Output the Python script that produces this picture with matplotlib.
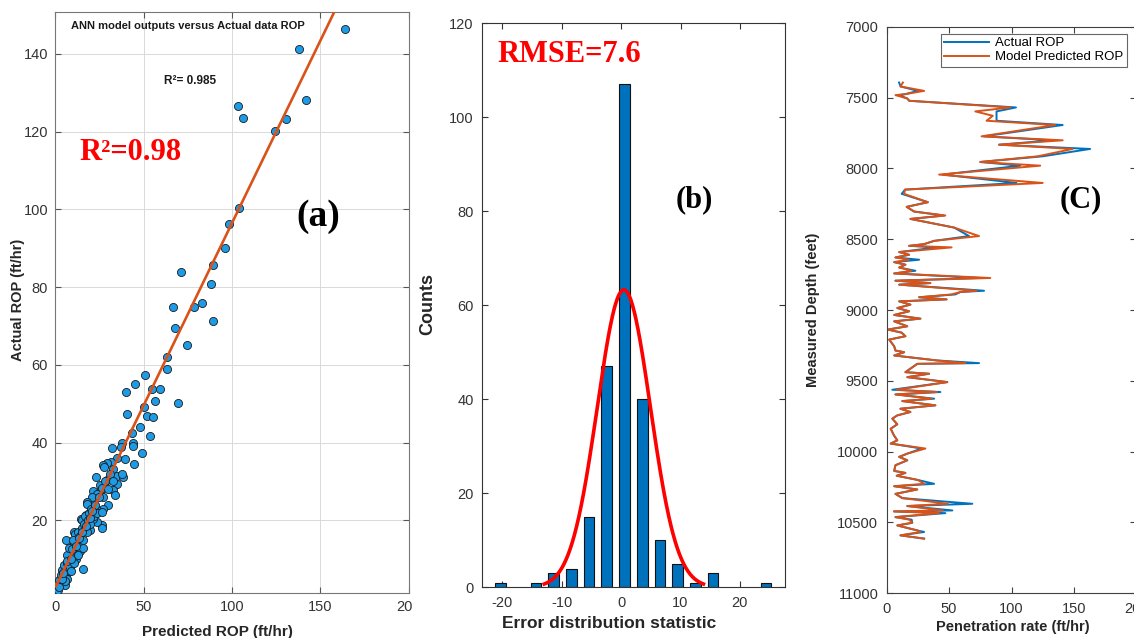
import numpy as np
import matplotlib
matplotlib.use("Agg")
import matplotlib.pyplot as plt
from matplotlib.transforms import Bbox

# ---------------- data ----------------
# (a) scatter: predicted vs actual ROP
pred_rop = [163.7, 138, 142, 103.6, 106.2, 124.3, 130.3, 104.1, 98.1, 96.2, 89.3, 88.1, 71.2, 83.1,
            78.7, 66.5, 89.5, 68, 74.4, 63.3, 63.1, 51.0, 45.4, 39.9, 55, 59.3, 69.7, 56.7, 50.3,
            52.2, 55.2, 40.7, 48, 53.9, 43.5, 37.9, 43.9, 44.1, 32.4, 37.1, 49.2, 44.5, 39.4, 35.1,
            31.8, 29.2, 27.3, 27.5, 32.9, 23, 29.2, 35.2, 38.6, 38, 35.2, 25.6, 26, 32.8, 33.9,
            21.7, 23.7, 21, 27.3, 29.9, 17.9, 27.3, 23.2, 26.3, 23.5, 21.4, 14.5, 17.5, 19.7, 15.9,
            6.2, 10.7,
            0.8, 1.5, 2.1, 3.0, 4.0, 5.8, 4.5, 5.0, 6.0, 7.0, 7.5, 8.0, 8.5, 9.0, 9.6, 10.0, 10.5,
            11.0, 11.5, 12.0, 12.5, 13.0, 13.5, 14.0, 15.2, 15.0, 16.0, 16.5, 17.0, 18.0, 18.1,
            18.5, 19.0, 20.0, 20.5, 22.0, 22.5, 24.0, 25.0, 26.6, 26.6, 26.6, 28.0, 30.0, 31.0,
            33.0, 12.0, 14.0, 6.5, 7.0, 3.5, 9.0, 11.0, 13.0, 16.0, 8.0, 10.0, 2.5, 5.5, 6.8,
            8.8, 9.8, 11.8, 13.8, 15.5, 17.5, 19.5, 21.0, 3.8, 4.8]
act_rop = [146.4, 141.4, 128.2, 126.5, 123.4, 120.1, 123.2, 100.4, 96.3, 90.1, 85.8, 80.9, 84.0, 76.0,
           74.8, 74.9, 71.3, 69.6, 65.2, 61.9, 59.0, 57.5, 55.1, 53.0, 53.9, 53.9, 50.3, 50.6, 49.2,
           46.8, 46.6, 47.3, 44.0, 41.8, 42.5, 40.0, 40.0, 39.1, 38.6, 38.8, 37.2, 34.6, 35.8, 36.0,
           35.1, 34.8, 34.2, 33.7, 33.2, 31.2, 30.5, 31.3, 31.1, 31.9, 29.3, 29.0, 27.9, 27.7, 26.4,
           27.5, 26.7, 26.0, 25.9, 24.0, 24.6, 23.0, 23.0, 18.7, 19.6, 20.3, 20.3, 21.4, 17.6, 7.6,
           15.0, 17.1,
           1.5, 2.0, 4.6, 3.5, 7.2, 3.3, 5.5, 8.5, 6.0, 9.0, 7.0, 10.5, 8.0, 12.0, 9.8, 11.0, 13.2,
           14.0, 16.6, 12.0, 15.0, 17.0, 14.0, 16.0, 20.1, 18.0, 15.0, 19.0, 21.0, 17.0, 24.3,
           20.0, 22.0, 19.0, 23.0, 21.0, 24.0, 22.0, 26.0, 28.2, 22.2, 17.9, 30.0, 28.0, 32.0,
           30.0, 10.0, 12.0, 11.0, 5.0, 6.0, 7.0, 9.0, 11.0, 13.0, 13.0, 15.0, 2.8, 4.5, 9.5,
           10.0, 12.5, 13.5, 15.5, 17.0, 18.5, 20.5, 22.5, 5.0, 6.5]
fit_slope = 0.94
fit_intercept = 2.5

# (b) error histogram
bin_centers = [-20.3, -14.34, -11.36, -8.38, -5.4, -2.42, 0.56, 3.54, 6.52, 9.5, 12.48, 15.46, 24.4]
bin_counts = [1, 1, 3, 4, 15, 47, 107, 40, 10, 5, 1, 3, 1]
bin_step = 2.98
err_mu = 0.45
err_sigma = 4.47

# (c) depth log
depth = [7394, 7422, 7453, 7476, 7483, 7507, 7523, 7570, 7598, 7629, 7664, 7694, 7774, 7802, 7833,
         7863, 7915, 7955, 7981, 8044, 8103, 8150, 8180, 8239, 8272, 8305, 8333, 8357, 8418, 8478,
         8512, 8535, 8547, 8558, 8591, 8610, 8629, 8645, 8662, 8680, 8700, 8723, 8742, 8774, 8793,
         8810, 8821, 8864, 8873, 8890, 8910, 8925, 8939, 8962, 8986, 9009, 9035, 9061, 9080, 9115,
         9138, 9160, 9185, 9209, 9256, 9286, 9298, 9321, 9356, 9375, 9380, 9439, 9450, 9474, 9509,
         9563, 9579, 9596, 9626, 9643, 9673, 9697, 9720, 9744, 9767, 9807, 9838, 9885, 9920, 9943,
         9978, 10014, 10037, 10061, 10096, 10136, 10150, 10170, 10200, 10227, 10244, 10267, 10298,
         10328, 10368, 10384, 10415, 10422, 10434, 10462, 10480, 10502, 10521, 10556, 10567, 10591,
         10614]
actual = [9.9, 11.2, 25, 15, 10, 16.5, 18, 103.6, 88, 88, 88, 141, 78, 133, 90,
          163, 125, 75, 107, 45, 104, 14.7, 12, 33, 16, 22, 46, 19, 54, 66,
          38, 30, 18, 40, 10, 18, 7, 26, 6, 15, 10, 23, 6, 75, 7,
          35, 10, 78, 59, 55, 26, 48, 10, 19, 8.5, 18, 6, 27, 6, 16.5,
          1, 12, 15, 2, 6, 7, 14, 6, 40, 74, 24.5, 15, 34, 16.5, 48.6,
          4.5, 43, 7, 38, 12.5, 39, 11, 19, 8.5, 4.5, 8.5, 3.2, 5.8, 8.5, 3.2,
          28, 16.5, 10, 16.5, 7, 6, 15, 8, 25, 38, 6, 24.5, 7,
          12.5, 68.6, 16.5, 52.6, 5.8, 47, 7, 20, 20.5, 8.5, 24.5, 30, 11,
          30]
predicted = [13, 11, 30, 15, 7, 16.5, 18, 99, 71, 85, 80, 135, 76, 141, 90,
             149, 121, 75, 123, 42, 125, 14.7, 14, 33, 16, 22, 47, 19, 54, 74,
             38, 30, 18, 52, 10, 18, 7, 18, 6, 15, 10, 20, 6, 83, 7,
             35, 10, 72, 59, 52, 26, 48, 10, 19, 8.5, 18, 6, 27, 6, 16.5,
             1, 12, 15, 2, 6, 7, 14, 6, 40, 63, 24.5, 15, 34, 16.5, 48.6,
             8, 40, 7, 36, 12.5, 39, 11, 19, 8.5, 4.5, 8.5, 3.2, 5.8, 8.5, 3.2,
             31, 16.5, 10, 16.5, 7, 6, 15, 8, 25, 30, 6, 24.5, 7,
             12.5, 49, 16.5, 45, 5.8, 42, 7, 18, 20.5, 8.5, 24.5, 27, 11,
             30]

# ---------------- figure ----------------
W, H = 1134, 638
plt.rcParams['font.family'] = ['Liberation Sans', 'DejaVu Sans']
plt.rcParams['axes.unicode_minus'] = False
fig = plt.figure(figsize=(W / 100, H / 100), dpi=100)

def rect(l, t, r, b):
    return [l / W, 1 - b / H, (r - l) / W, (b - t) / H]

def clip_at(artist, xmax):
    artist.set_clip_box(Bbox.from_extents(0, 0, xmax, H))
    artist.set_clip_on(True)

serif = ['Liberation Serif', 'DejaVu Serif']

# ---- panel (a)
axa = fig.add_axes(rect(55, 12, 409, 593))
axa.scatter(pred_rop, act_rop, s=34, c='#1e9be6', edgecolors='#1a1a1a', linewidths=0.6, zorder=3)
fx = np.array([0.5, 175.0])
axa.plot(fx, fit_slope * fx + fit_intercept, color='#d95319', lw=1.9, zorder=4)
axa.set_xlim(0, 200)
axa.set_ylim(1.3, 150.8)
axa.set_xticks([0, 50, 100, 150, 200])
axa.set_yticks([20, 40, 60, 80, 100, 120, 140])
axa.grid(True, color='#d9d9d9', lw=0.7)
axa.set_axisbelow(True)
axa.tick_params(direction='in', length=4, top=True, right=True, labelsize=10.5,
                colors='#555555', labelcolor='#333333', pad=5)
for s in axa.spines.values():
    s.set_color('#777777')
for lab in axa.get_xticklabels():
    clip_at(lab, 413)
axa.text(188 / W, 1 - 26 / H, 'ANN model outputs versus Actual data ROP', transform=fig.transFigure,
         ha='center', va='center', fontsize=8, fontweight='bold', color='#1a1a1a')
axa.text(190 / W, 1 - 81 / H, 'R²= 0.985', transform=fig.transFigure,
         ha='center', va='center', fontsize=8.5, fontweight='bold', color='#1a1a1a')
axa.text(131 / W, 1 - 153 / H, 'R²=0.98', transform=fig.transFigure, family=serif,
         ha='center', va='center', fontsize=22, fontweight='bold', color='red')
axa.text(318 / W, 1 - 216 / H, '(a)', transform=fig.transFigure, family=serif,
         ha='center', va='center', fontsize=27, fontweight='bold', color='black')
fig.text(18 / W, 1 - 300 / H, 'Actual ROP (ft/hr)', rotation=90, ha='center', va='center',
         fontsize=10.5, fontweight='bold', color='#262626')
fig.text(217 / W, 1 - 632 / H, 'Predicted ROP (ft/hr)', ha='center', va='center',
         fontsize=11, fontweight='bold', color='#262626')

# ---- panel (b)
axb = fig.add_axes(rect(482, 23.3, 785, 587.3))
axb.bar(bin_centers, bin_counts, width=1.8, color='#0072bd', edgecolor='#111111', linewidth=0.8, zorder=2)
total = sum(bin_counts)
cx = np.linspace(err_mu - 3 * err_sigma, err_mu + 3 * err_sigma, 300)
peak = total * bin_step / (err_sigma * np.sqrt(2 * np.pi))
axb.plot(cx, peak * np.exp(-0.5 * ((cx - err_mu) / err_sigma) ** 2), color='red', lw=2.6, zorder=3)
axb.set_xlim(-23.45, 27.6)
axb.set_ylim(0, 120)
axb.set_xticks([-20, -10, 0, 10, 20])
axb.set_yticks([0, 20, 40, 60, 80, 100, 120])
axb.tick_params(direction='in', length=4, top=True, right=True, labelsize=10.5,
                colors='#333333', labelcolor='#333333', pad=6)
for s in axb.spines.values():
    s.set_color('#333333')
axb.text(569 / W, 1 - 55 / H, 'RMSE=7.6', transform=fig.transFigure, family=serif,
         ha='center', va='center', fontsize=22, fontweight='bold', color='red')
axb.text(694 / W, 1 - 200 / H, '(b)', transform=fig.transFigure, family=serif,
         ha='center', va='center', fontsize=22, fontweight='bold', color='black')
fig.text(428 / W, 1 - 304 / H, 'Counts', rotation=90, ha='center', va='center',
         fontsize=13, fontweight='bold', color='#262626')
t = fig.text(502 / W, 1 - 624 / H, 'Error distribution statistic', ha='left', va='center',
             fontsize=12.5, fontweight='bold', color='#262626')
clip_at(t, 780)

# ---- panel (c)
axc = fig.add_axes(rect(886.7, 26.7, 1136.3, 593.3))
axc.plot(actual, depth, color='#0072bd', lw=1.4, label='Actual ROP')
axc.plot(predicted, depth, color='#d95319', lw=1.4, label='Model Predicted ROP')
axc.set_xlim(0, 200)
axc.set_ylim(11000, 7000)
axc.set_xticks([0, 50, 100, 150, 200])
axc.set_yticks(np.arange(7000, 11001, 500))
axc.tick_params(direction='in', length=4, top=True, right=True, labelsize=10.5,
                colors='#404040', labelcolor='#333333', pad=6)
for s in axc.spines.values():
    s.set_color('#404040')
leg = axc.legend(loc='upper left', bbox_to_anchor=(940.7 / W, 1 - 33.7 / H),
                 bbox_transform=fig.transFigure, fontsize=9.5, frameon=True, fancybox=False,
                 edgecolor='#666666', framealpha=1, handlelength=3.4, borderpad=0.25,
                 labelspacing=0.15, handletextpad=0.5, borderaxespad=0)
leg.get_frame().set_linewidth(0.8)
axc.text(1081 / W, 1 - 200 / H, '(C)', transform=fig.transFigure, family=serif,
         ha='center', va='center', fontsize=22, fontweight='bold', color='black')
fig.text(813 / W, 1 - 310 / H, 'Measured Depth (feet)', rotation=90, ha='center', va='center',
         fontsize=10.5, fontweight='bold', color='#262626')
fig.text(1013 / W, 1 - 627 / H, 'Penetration rate (ft/hr)', ha='center', va='center',
         fontsize=10.5, fontweight='bold', color='#262626')

fig.savefig('out.png', dpi=100)
